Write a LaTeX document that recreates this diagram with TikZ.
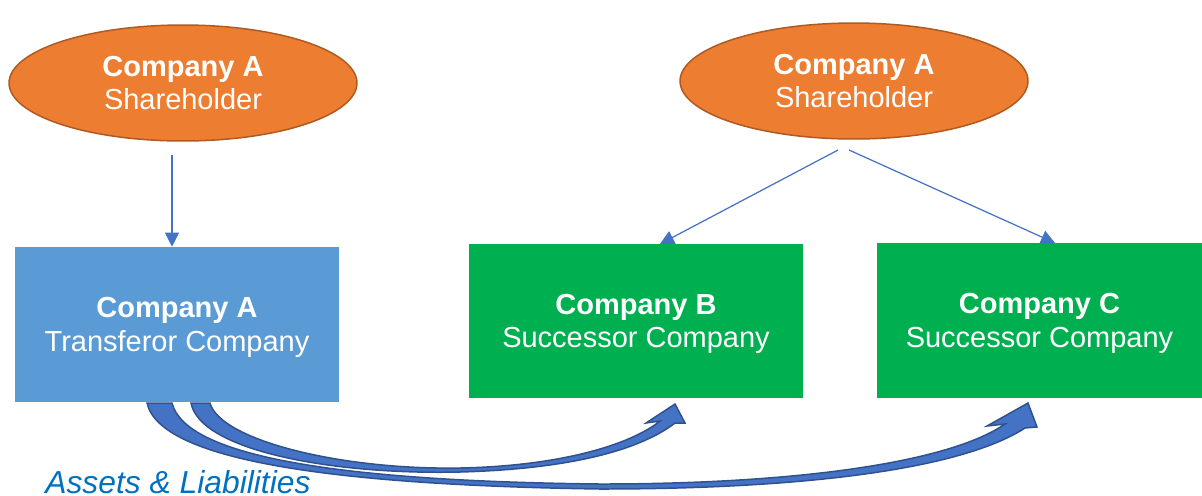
\documentclass[tikz,border=0pt]{standalone}
\usepackage{fontspec}
\setmainfont{Liberation Sans}
\usetikzlibrary{shapes.geometric,arrows.meta}

\definecolor{holderfill}{HTML}{ED7D31}
\definecolor{holderedge}{HTML}{AE5A21}
\definecolor{transferorfill}{HTML}{5B9BD5}
\definecolor{successorfill}{HTML}{00B050}
\definecolor{linkblue}{HTML}{4472C4}
\definecolor{flowedge}{HTML}{2F528F}
\definecolor{labelblue}{HTML}{0070C0}

\begin{document}
\begin{tikzpicture}[x=0.02cm, y=-0.02cm,
	holder/.style={ellipse, fill=holderfill, draw=holderedge, line width=0.85pt,
		minimum width=6.96cm, minimum height=2.32cm, inner sep=0pt,
		text=white, align=center, font=\fontsize{16.5}{19}\selectfont},
	company/.style={rectangle, inner sep=0pt, text depth=-0.08cm, text=white, align=center,
		font=\fontsize{16.5}{19}\selectfont},
	link/.style={draw=linkblue, line width=0.7pt, -{Triangle[length=0.28cm, width=0.28cm]}},
	flow/.style={fill=linkblue, draw=flowedge, line width=0.85pt, line join=miter}]
	\useasboundingbox (0,0) rectangle (1202,495);

	%shareholders
	\node[holder] (holderL) at (183,83){\textbf{Company A}\\Shareholder};
	\node[holder] (holderR) at (854,81){\textbf{Company A}\\Shareholder};

	%companies
	\node[company, fill=transferorfill, minimum width=6.48cm, minimum height=3.1cm] (compA) at (177,324.5){\textbf{Company A}\\Transferor Company};
	\node[company, fill=successorfill, minimum width=6.68cm, minimum height=3.08cm] (compB) at (636,321){\textbf{Company B}\\Successor Company};
	\node[company, fill=successorfill, minimum width=6.5cm, minimum height=3.1cm] (compC) at (1039.5,320.5){\textbf{Company C}\\Successor Company};

	%shareholder links
	\coordinate (fromL) at (172,155);
	\coordinate (fromRB) at (838,150);
	\coordinate (fromRC) at (849,150);
	\coordinate (toB) at (660,244);
	\coordinate (toC) at (1055,243);
	\draw[link] (fromL) -- (fromL |- compA.north);
	\draw[link] (fromRB) -- (toB);
	\draw[link] (fromRC) -- (toC);

	%assets and liabilities
	\filldraw[flow] (191,403) .. controls (200,450) and (330,475) .. (460,472)
		.. controls (570,469) and (640,450) .. (675,423) -- (685,423) -- (675,404) -- (646,423) -- (660,421)
		.. controls (630,445) and (560,466) .. (460,468)
		.. controls (340,470) and (220,440) .. (210,403) -- cycle;
	\filldraw[flow] (147,403) .. controls (160,460) and (330,485) .. (600,489)
		.. controls (800,489) and (960,470) .. (1025,428) -- (1037,427) -- (1028,403) -- (987,426) -- (1005,424)
		.. controls (950,462) and (800,484) .. (600,484)
		.. controls (330,481) and (185,455) .. (172,403) -- cycle;
	\node[anchor=base west, inner sep=0pt, text=labelblue, font=\fontsize{18.1}{21}\selectfont\itshape] (assets) at (45,493){Assets \& Liabilities};
\end{tikzpicture}
\end{document}
